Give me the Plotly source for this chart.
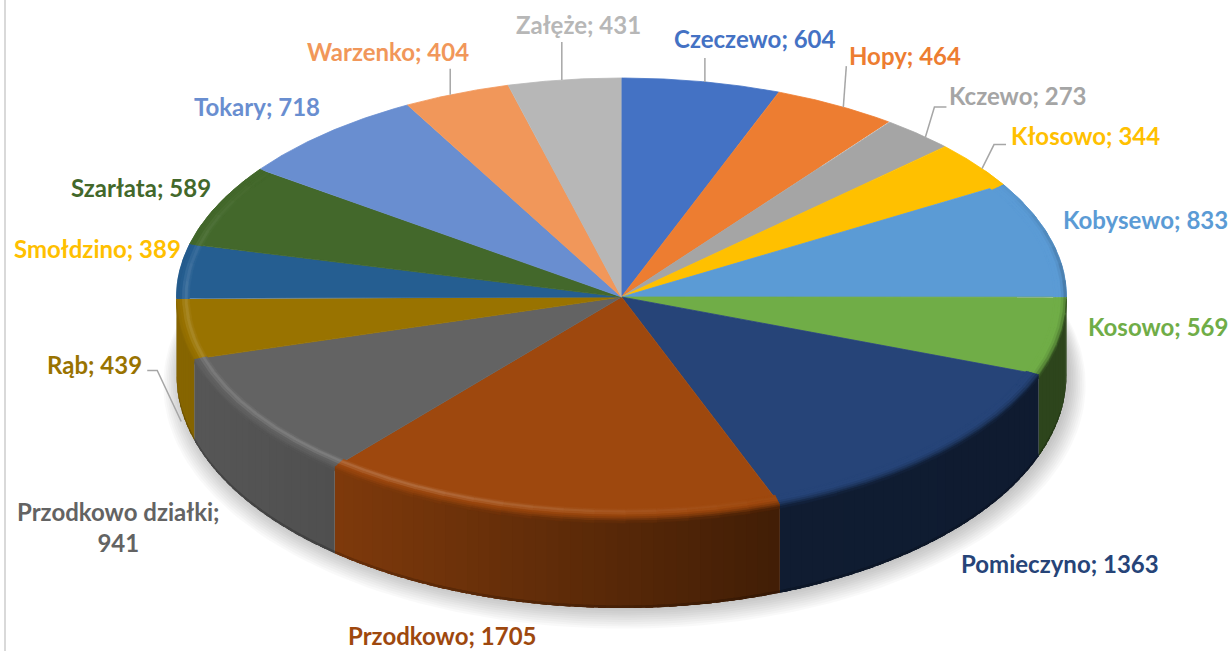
import numpy as np
import plotly.graph_objects as go

names = ["Czeczewo", "Hopy", "Kczewo", "Kłosowo", "Kobysewo", "Kosowo", "Pomieczyno", "Przodkowo",
         "Przodkowo działki", "Rąb", "Smołdzino", "Szarłata", "Tokary", "Warzenko", "Załęże"]
values = [604, 464, 273, 344, 833, 569, 1363, 1705, 941, 439, 389, 589, 718, 404, 431]
colors = ["#4472C4", "#ED7D31", "#A5A5A5", "#FFC000", "#5B9BD5", "#70AD47", "#264478", "#9E480E",
          "#636363", "#997300", "#255E91", "#43682B", "#698ED0", "#F1975A", "#B7B7B7"]
label_colors = ["#4472C4", "#ED7D31", "#A5A5A5", "#FFC000", "#5B9BD5", "#70AD47", "#264478", "#9E480E",
                "#636363", "#997300", "#FFC000", "#43682B", "#698ED0", "#F1975A", "#B7B7B7"]
label_x = [755, 905, 1018, 1085, 1145, 1158, 1060, 442, 118, 94, 97, 141, 257, 388, 578]
label_y = [38, 55, 95, 135, 219, 326, 563, 635, 527, 364, 248, 187, 106, 51, 24]
label_breaks = {"Przodkowo działki": ";<br>"}
# leader elbows, relative to the rim point at the slice's mid angle
leader_paths = {
    "Hopy": [(3, -41)],
    "Kczewo": [(9, -30), (21, -30)],
    "Kłosowo": [(12, -24), (24, -24)],
    "Rąb": [(-24, -51), (-34, -51)],
    "Warzenko": [(0, -26)],
    "Załęże": [(0, -38)],
    "Czeczewo": [(0, -24)],
}
leader_drop = {"Rąb": 92.6}

CX, CY, A = 621.5, 297.0, 445.0
B_BACK, B_FRONT = 219.0, 222.0
CY_LOW, B_LOW = 375.0, 233.0
BACK_SQUEEZE = 0.955


def rgb(h):
    return np.array([int(h[i:i + 2], 16) for i in (1, 3, 5)], float)


def css(c):
    c = np.clip(c, 0, 255)
    return f"rgb({c[0]:.0f},{c[1]:.0f},{c[2]:.0f})"


def wall_factor(x):
    return np.interp(x, [176, 333, 780, 1066], [0.88, 0.80, 0.41, 0.40])


def highlight(x):
    return np.interp(x, [176, 420, 640, 800, 1066], [0.15, 0.20, 0.07, 0.0, 0.0])


def persp(t):
    """Perspective foreshortening: angles on the far half crowd towards the far point."""
    t = np.asarray(t, float)
    far = np.cos(t) > 0
    warped = np.arctan2(BACK_SQUEEZE * np.sin(t), np.cos(t))
    warped = np.where(warped < 0, warped + 2 * np.pi, warped)
    near_end = t > 1.5 * np.pi
    warped = np.where(near_end & (warped < np.pi), warped + 2 * np.pi, warped)
    return np.where(far, warped, t)


def ex(t, d=0.0):
    return CX + (A - 1.3 * d) * np.sin(persp(t))


def ey(t, d=0.0):
    p = persp(t)
    c = np.cos(p)
    return CY - (np.where(c > 0, B_BACK, B_FRONT) - d) * c


def ey_low(t):
    return CY_LOW - B_LOW * np.cos(t)


fig = go.Figure()


def poly(xs, ys, color, width=0.0):
    fig.add_trace(go.Scatter(x=list(xs), y=list(ys), mode="lines", fill="toself", fillcolor=color,
                             line=dict(color=color, width=width), hoverinfo="skip", showlegend=False))


# soft shadow under the body
tt = np.linspace(0, 2 * np.pi, 240)
for k in range(10):
    fig.add_trace(go.Scatter(
        x=CX + 3 + (A + 1.8 * k) * np.sin(tt), y=CY_LOW + 1 + 1.0 * k - (B_LOW + 1.2 * k) * np.cos(tt),
        mode="lines", fill="toself", fillcolor="rgba(0,0,0,0.022)", line=dict(width=0),
        hoverinfo="skip", showlegend=False))

total = sum(values)
edges = np.cumsum([0] + values) / total * 2 * np.pi

# walls (front half only); each strip runs on under the next one so that no seams show
for i, c in enumerate(colors):
    a0, a1 = max(edges[i], np.pi / 2), min(edges[i + 1], 3 * np.pi / 2)
    if a1 <= a0:
        continue
    n = max(1, int(np.degrees(a1 - a0) / 1.5))
    bounds = np.linspace(a0, a1, n + 1)
    for j in range(n):
        t = np.linspace(bounds[j], min(bounds[j + 1] + np.radians(1.0), a1), 5)
        xm = ex((bounds[j] + bounds[j + 1]) / 2)
        base = rgb(c) * wall_factor(xm)
        poly(np.r_[ex(t), ex(t)[::-1]], np.r_[ey(t), ey_low(t)[::-1]], css(base))
    # darker foot of the wall
    for j in range(n):
        t = np.linspace(bounds[j], min(bounds[j + 1] + np.radians(1.0), a1), 5)
        xm = ex((bounds[j] + bounds[j + 1]) / 2)
        poly(np.r_[ex(t), ex(t)[::-1]], np.r_[ey_low(t) - 2.5, ey_low(t)[::-1]], css(rgb(c) * wall_factor(xm) * 0.82))

# top faces
for i, c in enumerate(colors):
    t = np.linspace(edges[i], edges[i + 1], 80)
    poly(np.r_[CX, ex(t)], np.r_[CY, ey(t)], c, 0.8)

# bevel along the rim: (inner px, outer px, highlight weight, wall weight)
bands = [(10, 8.5, 0.30, 0), (8.5, 6, 0.90, 0), (6, 4, 0.50, 0), (4, 2, 0, 0.12), (2, 0, 0, 0.35),
         (0, -2, 0, 0.65), (-2, -4, 0, 0.88)]
for i, c in enumerate(colors):
    base = rgb(c)
    span = edges[i + 1] - edges[i]
    n = max(1, int(np.degrees(span) / 4))
    bounds = np.linspace(edges[i], edges[i + 1], n + 1)
    for j in range(n):
        tm = (bounds[j] + bounds[j + 1]) / 2
        s = np.clip((0.55 - np.cos(tm)) / 0.55, 0, 1)
        if s <= 0:
            continue
        t = np.linspace(bounds[j], min(bounds[j + 1] + np.radians(1.0), edges[i + 1]), 5)
        xm = ex(tm)
        for d0, d1, hl, wl in bands:
            h = highlight(xm) * hl * s
            target = base * (1 - h) + 255 * h
            w = wl * s
            col = target * (1 - w) + base * wall_factor(xm) * w
            if d1 >= 0:
                px = np.r_[ex(t, d0), ex(t, d1)[::-1]]
                py = np.r_[ey(t, d0), ey(t, d1)[::-1]]
            else:
                # below the rim the blur only runs down the wall
                if np.cos(tm) > 0:
                    continue
                px = np.r_[ex(t), ex(t)[::-1]]
                py = np.r_[ey(t) - d0, (ey(t) - d1)[::-1]]
            poly(px, py, css(col), 0.5)

# leader lines (anchored at the slice's unforeshortened mid angle on the rim)
for name, path in leader_paths.items():
    i = names.index(name)
    tm = (edges[i] + edges[i + 1]) / 2
    x0 = CX + A * np.sin(tm)
    y0 = CY - B_BACK * np.cos(tm) + leader_drop.get(name, 0)
    fig.add_trace(go.Scatter(x=[x0] + [x0 + p[0] for p in path], y=[y0] + [y0 + p[1] for p in path],
                             mode="lines", line=dict(color="#A6A6A6", width=1.5),
                             hoverinfo="skip", showlegend=False))

# labels
for name, v, c, lx, ly in zip(names, values, label_colors, label_x, label_y):
    sep = label_breaks.get(name, "; ")
    fig.add_annotation(x=lx, y=ly, xref="x", yref="y", text=f"<b>{name}{sep}{v}</b>", showarrow=False,
                       font=dict(family="Lato", size=24, color=c), align="center")

fig.add_shape(type="line", x0=5, x1=5, y0=0, y1=651, xref="x", yref="y",
              line=dict(color="#D9D9D9", width=2), layer="below")

fig.update_layout(
    width=1232, height=651, margin=dict(l=0, r=0, t=0, b=0),
    paper_bgcolor="white", plot_bgcolor="white", showlegend=False,
    xaxis=dict(range=[0, 1232], visible=False, fixedrange=True),
    yaxis=dict(range=[651, 0], visible=False, fixedrange=True),
)
fig.write_html("out.html", config={"displayModeBar": False},
               post_script="document.body.style.margin='0';document.documentElement.style.overflow='hidden';")
